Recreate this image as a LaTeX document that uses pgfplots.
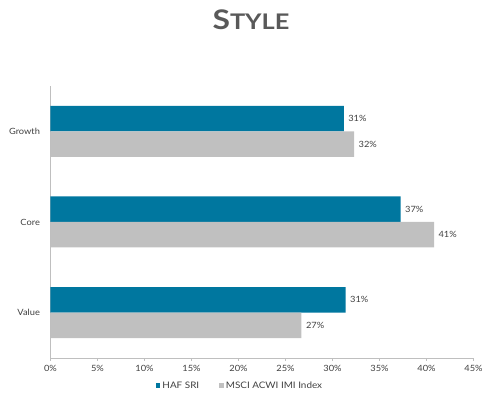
\documentclass[border=0pt]{standalone}
\usepackage{pgfplots}
\pgfplotsset{compat=1.18}
\usepackage{fontspec}
\setmainfont{Lato}
\definecolor{hafblue}{HTML}{00779F}
\definecolor{msgrey}{HTML}{C0C0C0}
\definecolor{axgrey}{HTML}{BFBFBF}
\definecolor{txt}{HTML}{404040}
\definecolor{ttl}{HTML}{595959}
\begin{document}
\begin{tikzpicture}
\begin{axis}[
  name=ax,
  scale only axis,
  width=423pt, height=272pt,
  xmin=0, xmax=45,
  ymin=-0.5, ymax=2.5,
  axis x line*=bottom, axis y line*=left,
  axis line style={axgrey, line width=0.8pt},
  xtick={0,5,...,45},
  xticklabel={\pgfmathprintnumber{\tick}\%},
  ytick={0,1,2},
  yticklabels={Value,Core,Growth},
  extra y ticks={-0.5,0.5,1.5,2.5},
  extra y tick labels={},
  extra y tick style={major tick length=3pt, tick style={axgrey, line width=0.6pt}, tickpos=left},
  major tick length=3pt,
  tick align=outside,
  x tick style={axgrey, line width=0.6pt},
  y tick style={draw=none},
  tick label style={font=\fontsize{8.6}{10}\selectfont\addfontfeatures{FakeStretch=1.08}, text=txt},
  /pgf/number format/assume math mode=true,
  xticklabel style={yshift=-0.5pt},
  yticklabel style={xshift=-4pt},
  xbar, bar width=25.5pt,
  nodes near coords,
  point meta=explicit symbolic,
  nodes near coords style={font=\fontsize{8.6}{10}\selectfont\addfontfeatures{FakeStretch=1.08}, text=txt, anchor=west, xshift=1pt},
  legend style={at={(0.448,-0.1015)}, anchor=center, draw=none, fill=none,
    legend columns=2, font=\fontsize{9}{10}\selectfont\addfontfeatures{FakeStretch=1.1}, text=txt,
    /tikz/every even column/.append style={column sep=18pt},
    inner sep=0pt},
  legend image code/.code={\fill[#1] (0pt,-2.3pt) rectangle (4.6pt,2.3pt);},
]
\addplot[fill=hafblue, draw=none, bar shift=12.75pt] coordinates {
  (31.4,0) [31\%]
  (37.25,1) [37\%]
  (31.2,2) [31\%]
};
\addplot[fill=msgrey, draw=none, bar shift=-12.75pt] coordinates {
  (26.7,0) [27\%]
  (40.8,1) [41\%]
  (32.3,2) [32\%]
};
\legend{HAF SRI, MSCI ACWI IMI Index}
\end{axis}
\node[font=\bfseries\color{ttl}, anchor=base] at (200.5pt,328pt) {\addfontfeatures{FakeStretch=1.18}\fontsize{27}{30}\selectfont S\fontsize{21.5}{24}\selectfont TYLE};
\pgfresetboundingbox
\path[use as bounding box] (-50.5pt,-35pt) rectangle (431.5pt,358pt);
\end{tikzpicture}
\end{document}
